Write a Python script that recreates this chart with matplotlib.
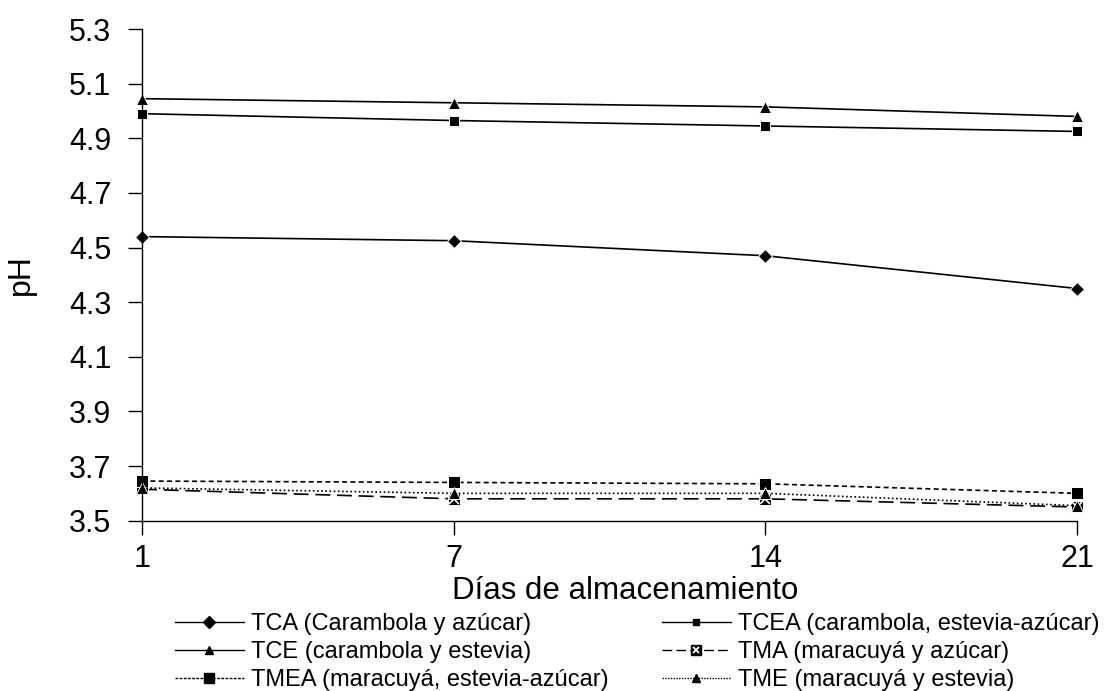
import matplotlib
matplotlib.use("Agg")
import matplotlib.pyplot as plt
from matplotlib.lines import Line2D
from matplotlib.legend_handler import HandlerTuple

plt.rcParams['font.family'] = ['Liberation Sans', 'DejaVu Sans']

dias = ['1', '7', '14', '21']
tca = [4.54, 4.525, 4.47, 4.35]
tcea = [4.99, 4.965, 4.945, 4.925]
tce = [5.045, 5.03, 5.015, 4.98]
tma = [3.615, 3.58, 3.58, 3.55]
tmea = [3.645, 3.64, 3.635, 3.60]
tme = [3.62, 3.60, 3.60, 3.555]

etiquetas = {
    'tca': 'TCA (Carambola y azúcar)',
    'tcea': 'TCEA (carambola, estevia-azúcar)',
    'tce': 'TCE (carambola y estevia)',
    'tma': 'TMA (maracuyá y azúcar)',
    'tmea': 'TMEA (maracuyá, estevia-azúcar)',
    'tme': 'TME (maracuyá y estevia)',
}

fig = plt.figure(figsize=(11.08, 6.91), dpi=100)
ax = fig.add_axes([0.1282, 0.2465, 0.8438, 0.7115])
x = list(range(len(dias)))

lw = 1.2
common = dict(color='black', lw=lw, clip_on=False, mec='white', mew=0.7)

# TMA: square with a cross, drawn as two stacked markers
ax.plot(x, tma, ls=(0, (9, 4)), marker='s', ms=9, mfc='black', **common)
ax.plot(x, tma, ls='none', marker='x', ms=7, mec='white', mew=1.2, clip_on=False)
ax.plot(x, tmea, ls=(0, (3, 2)), marker='s', ms=9, mfc='black', **common)
ax.plot(x, tme, ls=(0, (1, 1.5)), marker='^', ms=9, mfc='black', **common)
ax.plot(x, tca, ls='-', marker='D', ms=7, mfc='black', **common)
ax.plot(x, tcea, ls='-', marker='s', ms=7, mfc='black', **common)
ax.plot(x, tce, ls='-', marker='^', ms=8, mfc='black', **common)

ax.set_xlim(0, len(dias) - 1)
ax.set_ylim(3.5, 5.3)
ax.set_xticks(x)
ax.set_xticklabels(dias)
yt = [3.5 + 0.2 * i for i in range(10)]
ax.set_yticks(yt)
ax.set_yticklabels([f'{v:.1f}' for v in yt])

for s in ['top', 'right']:
    ax.spines[s].set_visible(False)
for s in ['left', 'bottom']:
    ax.spines[s].set_linewidth(1.0)
ax.tick_params(axis='both', direction='out', length=10, width=1.0, labelsize=22)
ax.tick_params(axis='y', pad=12)
ax.tick_params(axis='x', pad=7)

ax.set_xlabel('Días de almacenamiento', fontsize=22.5)
ax.xaxis.set_label_coords(0.5166, -0.112)
ax.set_ylabel('pH', fontsize=23, labelpad=24)


def h(ls, marker, ms):
    return Line2D([], [], color='black', lw=1.0, ls=ls, marker=marker, ms=ms,
                  mfc='black', mec='black')


h_tca = h('-', 'D', 6)
h_tce = h('-', '^', 6)
h_tmea = h((0, (2, 1)), 's', 7)
h_tcea = h('-', 's', 5)
h_tma = (h((0, (7, 3)), 's', 7),
         Line2D([], [], ls='none', marker='x', ms=5, mec='white', mew=1.3))
h_tme = h((0, (1, 1)), '^', 6)

leg_kw = dict(loc='upper left', frameon=False, fontsize=17, labelspacing=0.26,
              borderpad=0, borderaxespad=0, handlelength=2.9, handletextpad=0.3,
              handler_map={tuple: HandlerTuple(ndivide=1, pad=0)})

leg1 = fig.legend([h_tca, h_tce, h_tmea],
                  [etiquetas['tca'], etiquetas['tce'], etiquetas['tmea']],
                  bbox_to_anchor=(0.158, 0.113), **leg_kw)
leg2 = fig.legend([h_tcea, h_tma, h_tme],
                  [etiquetas['tcea'], etiquetas['tma'], etiquetas['tme']],
                  bbox_to_anchor=(0.5975, 0.113), **leg_kw)

fig.savefig('out.png', dpi=100)
